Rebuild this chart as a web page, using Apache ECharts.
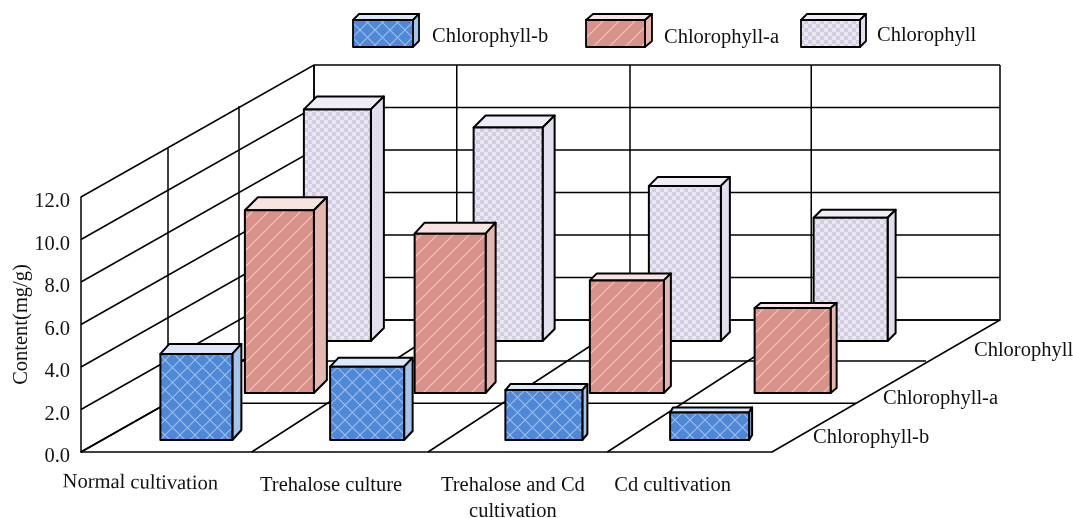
<!DOCTYPE html>
<html><head><meta charset="utf-8">
<style>html,body{margin:0;padding:0;background:#fff}#c{width:1073px;height:518px}</style>
<script src="https://cdn.jsdelivr.net/npm/echarts@6/dist/echarts.min.js"></script>
</head><body><div id="c"></div>
<script>
// ---- data ----
var categories = ['Normal cultivation','Trehalose culture','Trehalose and Cd\ncultivation','Cd cultivation'];
var seriesNames = ['Chlorophyll-b','Chlorophyll-a','Chlorophyll'];
var chlorophyllB = [4.05, 3.45, 2.35, 1.3];
var chlorophyllA = [8.6, 7.5, 5.3, 4.0];
var chlorophyll  = [10.9, 10.05, 7.3, 5.8];
var yTicks = [0,2,4,6,8,10,12];

// ---- layout of the oblique projection ----
var WALL_DY = -132, WALL_DX = 233;
var boundShift = [0,-2,1.5,8,0];            // front position nudge of category boundaries
var boundDepth = [233,205,202,204,228];     // how far each boundary runs back along the floor
var rowDepth = [0.37,0.69,1];               // floor rows as a fraction of floor depth
var rowLeftX = [87,158,233];
var rowRightX = [84,154,228];
var barOffset = [28,111,169];               // bar centre relative to band centre, per series
var barBase = [-12,-59,-111];               // bar base relative to the x axis, per series
var barWidth = [75,72,70];
var catNudge = [1,-1,3,-4];
var catWidth = [-3,-1,2,4];
var barDepthX = [[9,8.5,5,3],[13,10,7,6],[13,12,9,8]];
var barDepthY = [[10,9,6,5],[13,11,7,5],[13,12,9,8]];
var catLabelOffset = [[-27,29,-0.014],[-9,32,0],[0,32,0],[-13,32,0]];
var depthLabels = [[41,-16],[111,-55],[202,-103]];

// ---- patterns ----
function tile(size,bg,draw){var c=document.createElement('canvas');c.width=c.height=size;var g=c.getContext('2d');g.fillStyle=bg;g.fillRect(0,0,size,size);draw(g,size);return {image:c,repeat:'repeat'};}
function diag(g,s,up){g.beginPath();if(up){g.moveTo(-1,s+1);g.lineTo(s+1,-1);}else{g.moveTo(-1,-1);g.lineTo(s+1,s+1);}g.stroke();}
var patBlue = tile(15,'#4f88d6',function(g,s){g.strokeStyle='#a0bfea';g.lineWidth=1.1;diag(g,s,true);diag(g,s,false);});
var patRed = tile(16,'#d8928a',function(g,s){g.strokeStyle='#eec8c3';g.lineWidth=1.2;diag(g,s,true);g.beginPath();g.moveTo(-2,2);g.lineTo(2,-2);g.moveTo(s-2,s+2);g.lineTo(s+2,s-2);g.stroke();});
var patLav = tile(8,'#ebe7f2',function(g,s){g.fillStyle='#d3cde2';g.fillRect(0,0,4,4);g.fillRect(4,4,4,4);});
var faces = [
  {front:patBlue, top:'#dce8f8', side:'#a6c3ec'},
  {front:patRed,  top:'#f7e3e0', side:'#e6b6b0'},
  {front:patLav,  top:'#efecf5', side:'#e3deee'}
];
var INK = '#000';

function box(x0,x1,yTop,yBot,dx,dy,f,lw){
  function poly(pts,fill){return {type:'polygon',shape:{points:pts},style:{fill:fill,stroke:INK,lineWidth:lw,lineJoin:'round'}};}
  return [
    poly([[x0,yTop],[x0+dx,yTop+dy],[x1+dx,yTop+dy],[x1,yTop]],f.top),
    poly([[x1,yTop],[x1+dx,yTop+dy],[x1+dx,yBot+dy],[x1,yBot]],f.side),
    poly([[x0,yTop],[x1,yTop],[x1,yBot],[x0,yBot]],f.front)
  ];
}
function line(pts,w){return {type:'polyline',shape:{points:pts},style:{fill:null,stroke:INK,lineWidth:w||1.5}};}

function barSeries(idx,values){
  return {type:'custom',name:seriesNames[idx],silent:true,data:values.map(function(v,i){return [i,v];}),encode:{x:0,y:1},
    renderItem:function(p,api){
      var c=api.value(0),top=api.coord([c,api.value(1)]),base=api.coord([c,0]);
      var cx=top[0]+barOffset[idx]+catNudge[c],w=barWidth[idx]+catWidth[c];
      return {type:'group',children:box(cx-w/2,cx+w/2,top[1]+barBase[idx],base[1]+barBase[idx],barDepthX[idx][c],-barDepthY[idx][c],faces[idx],2)};
    }};
}
var FS=20.5;
var serifText={fontFamily:'"Liberation Serif","Times New Roman",serif',fontSize:FS,fill:'#111'};
function txt(x,y,s,rot,align){return {type:'text',x:x,y:y+2,rotation:rot||0,style:Object.assign({},serifText,{text:s,textAlign:align||'left',textVerticalAlign:'middle',lineHeight:26})};}

var wallGrid={type:'custom',silent:true,data:yTicks.map(function(v){return [0,v];}),encode:{x:0,y:1},
  renderItem:function(p,api){
    var pt=api.coord([0,api.value(1)]),bw=api.size([1,0])[0],x=pt[0]-bw/2,y=pt[1];
    var right=api.coord([3,0])[0]+bw/2+boundDepth[4];
    return line([[x,y],[x+WALL_DX,y+WALL_DY],[right,y+WALL_DY]]);
  }};
var dividers={type:'custom',silent:true,data:[0,1,2,3,4].map(function(i){return [i,12];}),encode:{x:0},
  renderItem:function(p,api){
    var i=api.value(0),bw=api.size([1,0])[0],b=api.coord([0,0]),t=api.coord([0,12]);
    var x=b[0]-bw/2+i*bw+boundShift[i],bx=x+boundDepth[i];
    return line([[x,b[1]],[bx,b[1]+WALL_DY],[bx,t[1]+WALL_DY]]);
  }};
var rows={type:'custom',silent:true,data:rowDepth.map(function(d,i){return [i,d];}),encode:{x:0},
  renderItem:function(p,api){
    var i=api.value(0),d=api.value(1),bw=api.size([1,0])[0],b=api.coord([0,0]),t=api.coord([0,12]);
    var x0=b[0]-bw/2,x1=b[0]+3.5*bw,y=b[1]+WALL_DY*d,lift=t[1]-b[1];
    return line([[x0+rowLeftX[i],y+lift],[x0+rowLeftX[i],y],[x1+rowRightX[i],y]]);
  }};
var catText={type:'custom',silent:true,data:categories.map(function(c,i){return [i,0];}),encode:{x:0,y:1},
  renderItem:function(p,api){
    var i=api.value(0),pt=api.coord([i,0]),o=catLabelOffset[i],lines=categories[i].split('\n');
    return {type:'group',children:lines.map(function(s,k){return txt(pt[0]+o[0],pt[1]+o[1]+k*26,s,o[2],'center');})};
  }};
var depthText={type:'custom',silent:true,data:seriesNames.map(function(c,i){return [3,0];}),encode:{x:0,y:1},
  renderItem:function(p,api){
    var i=p.dataIndex,pt=api.coord([3,0]),o=depthLabels[i],bw=api.size([1,0])[0];
    return txt(pt[0]+bw/2+o[0],pt[1]+o[1],seriesNames[i]);
  }};

// legend glyphs
var legendX=[353,586,801],legendW=[60,59,59],legendTextX=[432,664,877],legendTextY=[35,36,34],legendD=[6,7,6];
var legendItems=[];
seriesNames.forEach(function(n,i){
  box(legendX[i],legendX[i]+legendW[i],20,47,legendD[i],-6,faces[i],1.8).forEach(function(e){legendItems.push(e);});
  legendItems.push(txt(legendTextX[i],legendTextY[i],n));
});

var chart=echarts.init(document.getElementById('c'),null,{renderer:'canvas'});
chart.setOption({
  animation:false,backgroundColor:'#fff',
  grid:{left:81,right:301,top:197,bottom:66,containLabel:false,outerBoundsMode:'none'},
  xAxis:{type:'category',data:categories,boundaryGap:true,axisTick:{show:false},axisLabel:{show:false},splitLine:{show:false},
    axisLine:{show:true,lineStyle:{color:INK,width:1.5}}},
  yAxis:{type:'value',min:0,max:12,interval:2,splitLine:{show:false},axisTick:{show:false},
    axisLine:{show:true,lineStyle:{color:INK,width:1.5}},
    axisLabel:{margin:11,verticalAlign:'top',lineHeight:10,fontFamily:serifText.fontFamily,fontSize:FS,color:'#111',formatter:function(v){return v.toFixed(1);}},
    name:'Content(mg/g)',nameLocation:'middle',nameGap:49,nameMoveOverlap:false,nameTextStyle:{fontFamily:serifText.fontFamily,fontSize:FS,color:'#111'}},
  graphic:{elements:legendItems},
  series:[wallGrid,rows,dividers,barSeries(2,chlorophyll),barSeries(1,chlorophyllA),barSeries(0,chlorophyllB),catText,depthText]
});
</script></body></html>
